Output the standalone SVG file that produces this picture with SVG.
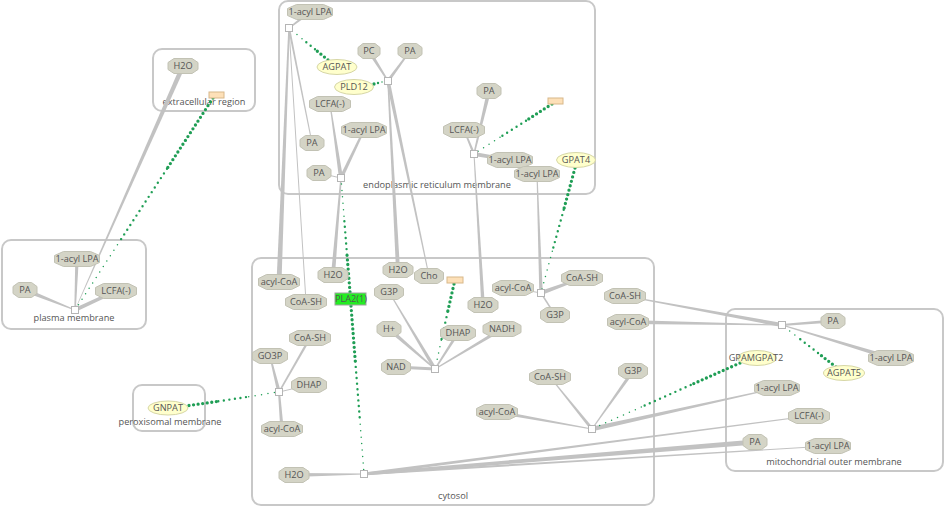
<svg xmlns="http://www.w3.org/2000/svg" width="945" height="509" viewBox="0 0 945 509">
<style>
text{font-family:"Open Sans","Liberation Sans",sans-serif;font-size:9.2px;fill:#555;text-anchor:middle}
.comp{fill:none;stroke:#c8c8c8;stroke-width:2}
.e{fill:#c2c2c2;stroke:none}
.l{stroke:#c2c2c2;fill:none}
.oct{fill:#d4d4c6;stroke:#c2c2b4;stroke-width:1}
.prot{fill:#ffffcc;stroke:#d6d6a6;stroke-width:1}
.ent{fill:#fde0b8;stroke:#d8b88a;stroke-width:1}
.rx{fill:#fff;stroke:#b5b5b5;stroke-width:1}
.c1{stroke:#1f9e55;stroke-width:3.3;stroke-linecap:round;stroke-dasharray:0 4.6;fill:none}
.c2{stroke:#1f9e55;stroke-width:2.4;stroke-linecap:round;stroke-dasharray:0 5.6;fill:none}
.c3{stroke:#1f9e55;stroke-width:1.5;stroke-linecap:round;stroke-dasharray:0 6.5;fill:none}
</style>
<defs>
<polygon id="o22" points="-6,-7.5 6,-7.5 11,-3.5 11,3.5 6,7.5 -6,7.5 -11,3.5 -11,-3.5"/>
<polygon id="o24" points="-6.5,-7.5 6.5,-7.5 12,-3.5 12,3.5 6.5,7.5 -6.5,7.5 -12,3.5 -12,-3.5"/>
<polygon id="o29" points="-8.5,-7.5 8.5,-7.5 14.5,-3.5 14.5,3.5 8.5,7.5 -8.5,7.5 -14.5,3.5 -14.5,-3.5"/>
<polygon id="o30" points="-9,-7.5 9,-7.5 15,-3.5 15,3.5 9,7.5 -9,7.5 -15,3.5 -15,-3.5"/>
<polygon id="o35" points="-10.5,-7.5 10.5,-7.5 17.5,-3.5 17.5,3.5 10.5,7.5 -10.5,7.5 -17.5,3.5 -17.5,-3.5"/>
<polygon id="o38" points="-11.5,-7.5 11.5,-7.5 19,-3.5 19,3.5 11.5,7.5 -11.5,7.5 -19,3.5 -19,-3.5"/>
<polygon id="o41" points="-12.5,-7.5 12.5,-7.5 20.5,-3.5 20.5,3.5 12.5,7.5 -12.5,7.5 -20.5,3.5 -20.5,-3.5"/>
<polygon id="o45" points="-13.5,-7.5 13.5,-7.5 22.5,-3.5 22.5,3.5 13.5,7.5 -13.5,7.5 -22.5,3.5 -22.5,-3.5"/>
<rect id="rxn" x="-3.5" y="-3.5" width="7" height="7"/>
</defs>
<rect width="945" height="509" fill="#fff"/>

<g id="compartments">
<g id="c-er"><rect class="comp" x="279" y="1" width="316" height="193" rx="9"/><text x="437" y="188">endoplasmic reticulum membrane</text></g>
<g id="c-extra"><rect class="comp" x="153" y="49" width="102" height="62" rx="9"/><text x="204" y="105">extracellular region</text></g>
<g id="c-plasma"><rect class="comp" x="2" y="240" width="144" height="89" rx="9"/><text x="74" y="321">plasma membrane</text></g>
<g id="c-cytosol"><rect class="comp" x="252" y="258" width="402" height="247" rx="9"/><text x="453" y="499">cytosol</text></g>
<g id="c-perox"><rect class="comp" x="133" y="385" width="72" height="46" rx="9"/><text x="170" y="425">peroxisomal membrane</text></g>
<g id="c-mito"><rect class="comp" x="726" y="309" width="217" height="162" rx="9"/><text x="834" y="465">mitochondrial outer membrane</text></g>
</g>

<g id="connectors">
<polygon class="e" points="309.1,10.8 288.6,27.4 289.5,28.6 310.9,13.2"/>
<polygon class="e" points="281.5,282.1 289.8,28 288.3,28 276.5,281.9"/>
<line class="l" x1="306" y1="302" x2="289" y2="28" stroke-width="1"/>
<polygon class="e" points="312.5,142.9 290,27.8 288,28.2 311.5,143.1"/>
<polygon class="e" points="329.5,104.1 339,178.3 343,177.7 330.5,103.9"/>
<polygon class="e" points="363.1,129.6 339.4,177.2 342.6,178.8 364.9,130.4"/>
<line class="l" x1="319" y1="173" x2="341" y2="178" stroke-width="1"/>
<polygon class="e" points="335,275.2 341.8,178.1 340.3,177.9 331,274.8"/>
<polygon class="e" points="367.5,51.9 387.4,81.4 388.6,80.6 370.5,50.1"/>
<polygon class="e" points="409.4,50.6 386.8,80.1 389.2,81.9 410.6,51.4"/>
<polygon class="e" points="400,269.9 388.8,81 387.3,81 396,270.1"/>
<polygon class="e" points="429.5,275.9 389.7,80.6 386.3,81.4 428.5,276.1"/>
<polygon class="e" points="487.1,90.5 473.3,153.8 474.7,154.2 490.9,91.5"/>
<polygon class="e" points="463.3,130.3 472.9,154.5 475.2,153.5 464.7,129.7"/>
<polygon class="e" points="510.3,158.5 474.3,152 473.7,156 509.8,161.5"/>
<polygon class="e" points="484.8,304.9 474.5,154 473.5,154 481.3,305.1"/>
<line class="l" x1="513" y1="288" x2="541" y2="293" stroke-width="1"/>
<polygon class="e" points="581.7,277.1 540.3,291.1 541.7,294.9 582.3,278.9"/>
<line class="l" x1="555" y1="315" x2="541" y2="293" stroke-width="1.5"/>
<polygon class="e" points="536.5,174 539.3,293.1 542.8,292.9 537.5,174"/>
<polygon class="e" points="388.6,292.3 433.5,369.9 436.5,368.1 389.4,291.7"/>
<polygon class="e" points="387.7,330.5 434.5,369.6 435.5,368.4 390.3,327.5"/>
<line class="l" x1="396" y1="367" x2="435" y2="369" stroke-width="3"/>
<polygon class="e" points="456.7,332.2 434.4,368.6 435.6,369.4 459.3,333.8"/>
<polygon class="e" points="501.1,327.5 434.7,368.6 435.3,369.4 502.9,330.5"/>
<polygon class="e" points="269.3,356.2 277.3,392.4 280.7,391.6 270.7,355.8"/>
<polygon class="e" points="308.9,337.4 278.4,391.6 279.7,392.4 311.1,338.6"/>
<line class="l" x1="309" y1="385" x2="279" y2="392" stroke-width="1"/>
<polygon class="e" points="283.7,428.9 280,391.9 278,392.1 280.3,429.1"/>
<polygon class="e" points="496.7,413.7 591.9,429.5 592.1,428.5 497.3,410.3"/>
<polygon class="e" points="549.6,377.3 590.8,429.9 593.2,428.1 550.4,376.7"/>
<polygon class="e" points="631.6,370 591.6,428.7 592.4,429.3 634.4,372"/>
<polygon class="e" points="776.9,387.5 591.5,426.8 592.5,431.2 777.1,388.5"/>
<polygon class="e" points="624.9,296.5 781.6,327 782.4,323 625.1,295.5"/>
<polygon class="e" points="628,324 782,325.5 782,324.5 628,320"/>
<polygon class="e" points="832.9,319.5 781.9,324 782.1,326 833.1,322.5"/>
<polygon class="e" points="891.6,356.1 782.2,324.5 781.9,325.5 890.4,359.9"/>
<polygon class="e" points="294,477 364,474.5 364,473.5 294,473"/>
<polygon class="e" points="754.8,439.5 363.9,472.5 364.1,475.5 755.2,444.5"/>
<polygon class="e" points="808.9,415.5 363.8,472.5 364.2,475.5 809.1,416.5"/>
<polygon class="e" points="828,445.5 363.9,472.8 364.1,475.3 828,446.5"/>
<polygon class="e" points="24.3,291.9 74.8,310.5 75.2,309.5 25.7,288.1"/>
<polygon class="e" points="75.3,258.9 74.3,310 75.8,310 78.8,259.1"/>
<polygon class="e" points="115.4,289.6 74.2,308.2 75.8,311.8 116.6,292.4"/>
<polygon class="e" points="180.9,65.1 74.7,309.9 75.3,310.1 185.1,66.9"/>

<g id="catalysis">
<line class="c1" x1="328" y1="60" x2="315" y2="49.3"/><line class="c2" x1="315" y1="49.3" x2="302" y2="38.7"/><line class="c3" x1="302" y1="38.7" x2="292" y2="30.5"/>
<line class="c1" x1="374" y1="84" x2="378" y2="83"/><line class="c2" x1="378" y1="83" x2="382" y2="82"/><line class="c3" x1="382" y1="82" x2="385" y2="81.5"/>
<line class="c1" x1="552" y1="104" x2="526" y2="120.7"/><line class="c2" x1="526" y1="120.7" x2="500" y2="137.3"/><line class="c3" x1="500" y1="137.3" x2="477" y2="152"/>
<line class="c1" x1="575" y1="168" x2="563.7" y2="209.7"/><line class="c2" x1="563.7" y1="209.7" x2="552.3" y2="251.3"/><line class="c3" x1="552.3" y1="251.3" x2="542" y2="289"/>
<line class="c1" x1="454" y1="284" x2="447.7" y2="311.7"/><line class="c2" x1="447.7" y1="311.7" x2="441.3" y2="340.3"/><line class="c3" x1="441.3" y1="340.3" x2="436" y2="365"/>
<line class="c1" x1="189" y1="405.5" x2="218.3" y2="401.3"/><line class="c2" x1="218.3" y1="401.3" x2="248.7" y2="396.7"/><line class="c3" x1="248.7" y1="396.7" x2="275" y2="392.5"/>
<line class="c1" x1="740" y1="363" x2="690.7" y2="385"/><line class="c2" x1="690.7" y1="385" x2="641.3" y2="407"/><line class="c3" x1="641.3" y1="407" x2="596" y2="427"/>
<line class="c1" x1="836" y1="367" x2="818" y2="353"/><line class="c2" x1="818" y1="353" x2="800" y2="339"/><line class="c3" x1="800" y1="339" x2="785" y2="327.5"/>
<line class="c1" x1="213" y1="98" x2="167" y2="168.7"/><line class="c2" x1="167" y1="168.7" x2="121" y2="239.3"/><line class="c3" x1="121" y1="239.3" x2="77" y2="307"/>
<line class="c1" x1="350" y1="292" x2="347" y2="254.7"/><line class="c2" x1="347" y1="254.7" x2="344" y2="216.3"/><line class="c3" x1="344" y1="216.3" x2="341.3" y2="182"/>
<line class="c1" x1="351" y1="306" x2="355.3" y2="361.3"/><line class="c2" x1="355.3" y1="361.3" x2="359.7" y2="417.7"/><line class="c3" x1="359.7" y1="417.7" x2="363.7" y2="470"/>
</g>
</g>

<g id="reactions">
<use href="#rxn" class="rx" x="289" y="28"/>
<use href="#rxn" class="rx" x="341" y="178"/>
<use href="#rxn" class="rx" x="388" y="81"/>
<use href="#rxn" class="rx" x="474" y="154"/>
<use href="#rxn" class="rx" x="541" y="293"/>
<use href="#rxn" class="rx" x="435" y="369"/>
<use href="#rxn" class="rx" x="279" y="392"/>
<use href="#rxn" class="rx" x="592" y="429"/>
<use href="#rxn" class="rx" x="782" y="325"/>
<use href="#rxn" class="rx" x="364" y="474"/>
<use href="#rxn" class="rx" x="75" y="310"/>
</g>

<g id="nodes">
<g id="n1"><use href="#o45" class="oct" x="310" y="12"/><text x="310" y="15.3">1-acyl LPA</text></g>
<g id="n2"><use href="#o22" class="oct" x="369" y="51"/><text x="369" y="54.3">PC</text></g>
<g id="n3"><use href="#o24" class="oct" x="410" y="51"/><text x="410" y="54.3">PA</text></g>
<g id="p1"><ellipse class="prot" cx="337" cy="67" rx="20" ry="7.5"/><text x="337" y="70.3">AGPAT</text></g>
<g id="p2"><ellipse class="prot" cx="354" cy="87" rx="19.5" ry="7.5"/><text x="354" y="90.3">PLD12</text></g>
<g id="n4"><use href="#o41" class="oct" x="330" y="104"/><text x="330" y="107.3">LCFA(-)</text></g>
<g id="n5"><use href="#o45" class="oct" x="364" y="130"/><text x="364" y="133.3">1-acyl LPA</text></g>
<g id="n6"><use href="#o24" class="oct" x="312" y="143"/><text x="312" y="146.3">PA</text></g>
<g id="n7"><use href="#o24" class="oct" x="319" y="173"/><text x="319" y="176.3">PA</text></g>
<g id="n8"><use href="#o24" class="oct" x="489" y="91"/><text x="489" y="94.3">PA</text></g>
<g id="e1"><rect class="ent" x="548" y="98" width="15" height="6"/></g>
<g id="n9"><use href="#o41" class="oct" x="464" y="130"/><text x="464" y="133.3">LCFA(-)</text></g>
<g id="n10"><use href="#o45" class="oct" x="510" y="160"/><text x="510" y="163.3">1-acyl LPA</text></g>
<g id="n11"><use href="#o45" class="oct" x="537" y="174"/><text x="537" y="177.3">1-acyl LPA</text></g>
<g id="p3"><ellipse class="prot" cx="576" cy="160" rx="19.5" ry="7.5"/><text x="576" y="163.3">GPAT4</text></g>

<g id="n12"><use href="#o30" class="oct" x="183" y="66"/><text x="183" y="69.3">H2O</text></g>
<g id="e2"><rect class="ent" x="209" y="92" width="15" height="6"/></g>

<g id="n13"><use href="#o45" class="oct" x="77" y="259"/><text x="77" y="262.3">1-acyl LPA</text></g>
<g id="n14"><use href="#o24" class="oct" x="25" y="290"/><text x="25" y="293.3">PA</text></g>
<g id="n15"><use href="#o41" class="oct" x="116" y="291"/><text x="116" y="294.3">LCFA(-)</text></g>

<g id="n16"><use href="#o41" class="oct" x="279" y="282"/><text x="279" y="285.3">acyl-CoA</text></g>
<g id="n17"><use href="#o41" class="oct" x="306" y="302"/><text x="306" y="305.3">CoA-SH</text></g>
<g id="n18"><use href="#o30" class="oct" x="333" y="275"/><text x="333" y="278.3">H2O</text></g>
<g id="pla2"><rect x="335" y="293" width="31" height="12" fill="#22ee22" stroke="#a0a0a0" stroke-width="1"/><text x="351" y="302.3">PLA2(1)</text></g>
<g id="n19"><use href="#o30" class="oct" x="398" y="270"/><text x="398" y="273.3">H2O</text></g>
<g id="n20"><use href="#o29" class="oct" x="429" y="276"/><text x="429" y="279.3">Cho</text></g>
<g id="e3"><rect class="ent" x="447" y="277" width="16" height="6"/></g>
<g id="n21"><use href="#o29" class="oct" x="389" y="292"/><text x="389" y="295.3">G3P</text></g>
<g id="n22"><use href="#o41" class="oct" x="513" y="288"/><text x="513" y="291.3">acyl-CoA</text></g>
<g id="n23"><use href="#o41" class="oct" x="582" y="278"/><text x="582" y="281.3">CoA-SH</text></g>
<g id="n24"><use href="#o30" class="oct" x="483" y="305"/><text x="483" y="308.3">H2O</text></g>
<g id="n25"><use href="#o29" class="oct" x="555" y="315"/><text x="555" y="318.3">G3P</text></g>
<g id="n26"><use href="#o24" class="oct" x="389" y="329"/><text x="389" y="332.3">H+</text></g>
<g id="n27"><use href="#o35" class="oct" x="458" y="333"/><text x="458" y="336.3">DHAP</text></g>
<g id="n28"><use href="#o38" class="oct" x="502" y="329"/><text x="502" y="332.3">NADH</text></g>
<g id="n29"><use href="#o29" class="oct" x="396" y="367"/><text x="396" y="370.3">NAD</text></g>
<g id="n30"><use href="#o41" class="oct" x="310" y="338"/><text x="310" y="341.3">CoA-SH</text></g>
<g id="n31"><use href="#o35" class="oct" x="270" y="356"/><text x="270" y="359.3">GO3P</text></g>
<g id="n32"><use href="#o35" class="oct" x="309" y="385"/><text x="309" y="388.3">DHAP</text></g>
<g id="n33"><use href="#o41" class="oct" x="282" y="429"/><text x="282" y="432.3">acyl-CoA</text></g>
<g id="n34"><use href="#o41" class="oct" x="550" y="377"/><text x="550" y="380.3">CoA-SH</text></g>
<g id="n35"><use href="#o29" class="oct" x="633" y="371"/><text x="633" y="374.3">G3P</text></g>
<g id="n36"><use href="#o41" class="oct" x="497" y="412"/><text x="497" y="415.3">acyl-CoA</text></g>
<g id="n37"><use href="#o30" class="oct" x="294" y="475"/><text x="294" y="478.3">H2O</text></g>
<g id="n38"><use href="#o41" class="oct" x="625" y="296"/><text x="625" y="299.3">CoA-SH</text></g>
<g id="n39"><use href="#o41" class="oct" x="628" y="322"/><text x="628" y="325.3">acyl-CoA</text></g>

<g id="p4"><ellipse class="prot" cx="168" cy="408" rx="20" ry="7"/><text x="168" y="411">GNPAT</text></g>

<g id="n40"><use href="#o24" class="oct" x="833" y="321"/><text x="833" y="324.3">PA</text></g>
<g id="n41"><use href="#o45" class="oct" x="891" y="358"/><text x="891" y="361.3">1-acyl LPA</text></g>
<g id="p5"><ellipse class="prot" cx="757" cy="358" rx="19.5" ry="7.5"/><text x="756" y="361.3">GPAMGPAT2</text></g>
<g id="p6"><ellipse class="prot" cx="844" cy="373" rx="20.5" ry="7.5"/><text x="844" y="376.3">AGPAT5</text></g>
<g id="n42"><use href="#o45" class="oct" x="777" y="388"/><text x="777" y="391.3">1-acyl LPA</text></g>
<g id="n43"><use href="#o41" class="oct" x="809" y="416"/><text x="809" y="419.3">LCFA(-)</text></g>
<g id="n44"><use href="#o24" class="oct" x="755" y="442"/><text x="755" y="445.3">PA</text></g>
<g id="n45"><use href="#o45" class="oct" x="828" y="446"/><text x="828" y="449.3">1-acyl LPA</text></g>
</g>
</svg>
